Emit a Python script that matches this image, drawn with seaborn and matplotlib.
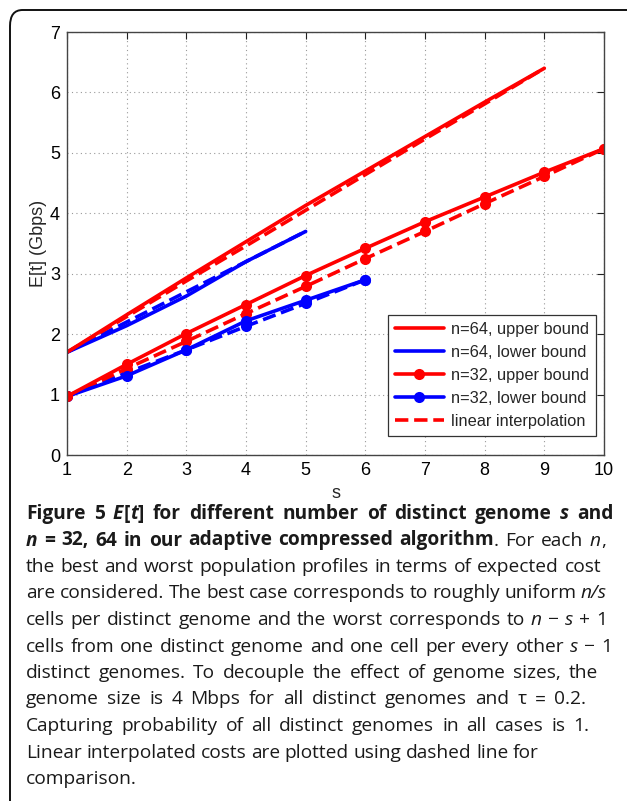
import re
import numpy as np
import pandas as pd
import matplotlib
matplotlib.use("Agg")
import matplotlib.pyplot as plt
import seaborn as sns
from matplotlib.patches import FancyBboxPatch
from matplotlib.lines import Line2D

# ---------------- data ----------------
s64 = [1, 2, 3, 4, 5, 6, 7, 8, 9]
upper64 = [1.70, 2.32, 2.93, 3.53, 4.13, 4.70, 5.27, 5.84, 6.40]
interp_upper64 = [1.70, 2.29, 2.88, 3.46, 4.05, 4.64, 5.23, 5.81, 6.40]

s64_low = [1, 2, 3, 4, 5]
lower64 = [1.70, 2.14, 2.63, 3.20, 3.70]
interp_lower64 = [1.70, 2.20, 2.70, 3.20, 3.70]

s32 = [1, 2, 3, 4, 5, 6, 7, 8, 9, 10]
upper32 = [0.97, 1.50, 2.01, 2.49, 2.97, 3.42, 3.86, 4.27, 4.68, 5.07]
interp_upper32 = [0.97, 1.43, 1.88, 2.34, 2.79, 3.25, 3.70, 4.16, 4.61, 5.07]

s32_low = [1, 2, 3, 4, 5, 6]
lower32 = [0.97, 1.31, 1.74, 2.22, 2.56, 2.90]
interp_lower32 = [0.97, 1.36, 1.74, 2.13, 2.51, 2.90]

legend_labels = ["n=64, upper bound", "n=64, lower bound", "n=32, upper bound",
                 "n=32, lower bound", "linear interpolation"]
x_ticks = [1, 2, 3, 4, 5, 6, 7, 8, 9, 10]
y_ticks = [0, 1, 2, 3, 4, 5, 6, 7]

RED = "#ff0000"
BLUE = "#0000ff"

sns.set_style("white")
plt.rcParams["font.family"] = ["Liberation Sans", "DejaVu Sans"]

W, H = 627, 801
fig = plt.figure(figsize=(W / 100, H / 100), dpi=100)

# rounded border (cropped at right and bottom like the reference)
border = FancyBboxPatch((10 / W, -0.2), (W + 30) / W, 1.2 - 10 / H,
                        boxstyle="round,pad=0,rounding_size=0.02",
                        transform=fig.transFigure, fill=False,
                        edgecolor="#111111", linewidth=1.4, clip_on=False)
fig.patches.append(border)

ax = fig.add_axes([67 / W, 1 - 455 / H, (604 - 67) / W, (455 - 32) / H])

lw = 2.6
ms = 8

def draw(x, y, color, ls="-", marker=None):
    df = pd.DataFrame({"s": x, "E": y})
    kw = dict(data=df, x="s", y="E", ax=ax, color=color, linewidth=lw,
              linestyle=ls, estimator=None, sort=False)
    if marker:
        kw.update(marker=marker, markersize=ms, markeredgewidth=0)
    sns.lineplot(**kw)

# dashed interpolation lines first
draw(s64_low, interp_lower64, BLUE, "--")
draw(s32_low, interp_lower32, BLUE, "--", "o")
draw(s64, interp_upper64, RED, "--")
draw(s32, interp_upper32, RED, "--", "o")
# solid bounds
draw(s64_low, lower64, BLUE)
draw(s32_low, lower32, BLUE, "-", "o")
draw(s64, upper64, RED)
draw(s32, upper32, RED, "-", "o")

ax.set_xlim(1, 10)
ax.set_ylim(0, 7)
ax.set_xticks(x_ticks)
ax.set_yticks(y_ticks)
ax.set_xticklabels([str(v) for v in x_ticks])
ax.set_yticklabels([str(v) for v in y_ticks])
ax.tick_params(direction="in", length=5, width=0.8, top=True, right=True,
               labelsize=13, colors="#222222", pad=5)
for lab in ax.get_xticklabels() + ax.get_yticklabels():
    lab.set_color("black")
ax.grid(True, linestyle=(0, (1, 3)), color="#999999", linewidth=0.8)
for sp in ax.spines.values():
    sp.set_visible(True)
    sp.set_color("#444444")
    sp.set_linewidth(1.0)
ax.set_xlabel("s", fontsize=13, labelpad=4)
ax.set_ylabel("E[t] (Gbps)", fontsize=13, labelpad=2)

handles = [
    Line2D([], [], color=RED, lw=lw),
    Line2D([], [], color=BLUE, lw=lw),
    Line2D([], [], color=RED, lw=lw, marker="o", markersize=ms, markeredgewidth=0),
    Line2D([], [], color=BLUE, lw=lw, marker="o", markersize=ms, markeredgewidth=0),
    Line2D([], [], color=RED, lw=lw, ls="--"),
]
leg = ax.legend(handles, legend_labels, loc="lower right",
                bbox_to_anchor=((596 - 67) / 537, (455 - 436) / 423),
                borderaxespad=0, fontsize=11.8, frameon=True, fancybox=False,
                framealpha=1, edgecolor="#333333", handlelength=3.0,
                handletextpad=0.4, labelspacing=0.48, borderpad=0.45)
leg.get_frame().set_linewidth(0.9)

# ---------------- caption ----------------
CAP_FONT = ["Open Sans", "DejaVu Sans"]
CAP_SIZE = 13.8
renderer = fig.canvas.get_renderer()
_wcache = {}

def text_width(txt, weight, style):
    key = (txt, weight, style)
    if key in _wcache:
        return _wcache[key]
    t1 = fig.text(0, 0, "x" + txt + "x", fontsize=CAP_SIZE, family=CAP_FONT,
                  fontweight=weight, fontstyle=style)
    t2 = fig.text(0, 0, "xx", fontsize=CAP_SIZE, family=CAP_FONT,
                  fontweight=weight, fontstyle=style)
    w = t1.get_window_extent(renderer).width - t2.get_window_extent(renderer).width
    t1.remove()
    t2.remove()
    _wcache[key] = w
    return w

def draw_runs(x_px, y_px, runs, right_px=None):
    tokens = []
    for txt, weight, style in runs:
        for part in re.split(r"( )", txt):
            if part:
                tokens.append((part, weight, style))
    natural = sum(text_width(t, w, s) for t, w, s in tokens)
    n_sp = sum(1 for t, _, _ in tokens if t == " ")
    extra = 0.0
    if right_px is not None and n_sp:
        extra = (right_px - x_px - natural) / n_sp
        extra = min(max(extra, -0.8), 3.5)
    x = x_px
    for t, weight, style in tokens:
        if t == " ":
            x += text_width(t, weight, style) + extra
            continue
        fig.text(x / W, 1 - y_px / H, t, fontsize=CAP_SIZE, family=CAP_FONT,
                 fontweight=weight, fontstyle=style, va="baseline", ha="left",
                 color="#1a1a1a")
        x += text_width(t, weight, style)

B, N = "bold", "normal"
I, R = "italic", "normal"
caption_lines = [
    [("Figure 5 ", B, R), ("E", B, I), ("[", B, R), ("t", B, I),
     ("] for different number of distinct genome ", B, R), ("s", B, I), (" and", B, R)],
    [("n", B, I), (" = 32, 64 in our adaptive compressed algorithm", B, R),
     (". For each ", N, R), ("n", N, I), (",", N, R)],
    [("the best and worst population profiles in terms of expected cost", N, R)],
    [("are considered. The best case corresponds to roughly uniform ", N, R), ("n/s", N, I)],
    [("cells per distinct genome and the worst corresponds to ", N, R), ("n", N, I),
     (" \u2212 ", N, R), ("s", N, I), (" + 1", N, R)],
    [("cells from one distinct genome and one cell per every other ", N, R), ("s", N, I),
     (" \u2212 1", N, R)],
    [("distinct genomes. To decouple the effect of genome sizes, the", N, R)],
    [("genome size is 4 Mbps for all distinct genomes and \u03c4 = 0.2.", N, R)],
    [("Capturing probability of all distinct genomes in all cases is 1.", N, R)],
    [("Linear interpolated costs are plotted using dashed line for", N, R)],
    [("comparison.", N, R)],
]
line_right = [616, 606, 601, 607, 607, 612, 598, 586, 589, 539, None]
for i, runs in enumerate(caption_lines):
    draw_runs(26, 519 + i * 26.5, runs, line_right[i])

fig.savefig("out.png", dpi=100)
